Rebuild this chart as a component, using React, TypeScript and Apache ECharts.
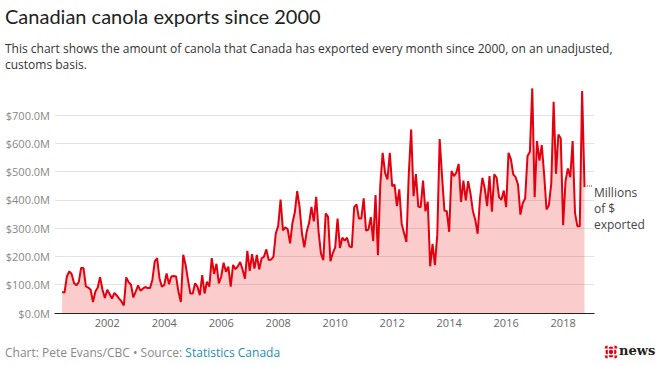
import React, { useEffect, useRef } from "react";
import * as echarts from "echarts";

// Monthly canola exports, millions of dollars, Jun 2000 .. Oct 2018
const DATA_START_YEAR = 2000;
const DATA_START_MONTH = 6; // June
const PAD_BEFORE = 3; // empty months drawn before the first value
const PAD_AFTER = 4; // empty months drawn after the last value

const exportsMillions: number[] = [
  // 2000 (Jun-Dec)
  74, 72, 129, 147, 138, 106, 98,
  // 2001
  109, 159, 159, 94, 90, 82, 39, 76, 90, 127, 82, 53,
  // 2002
  82, 67, 51, 71, 62, 51, 41, 27, 126, 109, 100, 55,
  // 2003
  76, 98, 79, 86, 92, 88, 88, 117, 182, 194, 123, 93,
  // 2004
  99, 140, 102, 129, 131, 129, 75, 39, 206, 170, 117, 69,
  // 2005
  69, 105, 93, 63, 134, 69, 111, 93, 194, 138, 174, 105,
  // 2006
  129, 178, 146, 164, 93, 170, 155, 165, 180, 154, 121, 220,
  // 2007
  149, 208, 157, 205, 154, 193, 199, 225, 187, 189, 199, 282,
  // 2008
  308, 401, 292, 303, 296, 246, 318, 356, 431, 375, 282, 232,
  // 2009
  288, 318, 375, 324, 411, 288, 211, 187, 352, 340, 183, 212,
  // 2010
  232, 334, 230, 266, 256, 266, 236, 232, 374, 384, 334, 334,
  // 2011
  405, 291, 295, 339, 254, 417, 204, 454, 566, 496, 472, 566,
  // 2012
  448, 454, 378, 437, 315, 283, 251, 492, 649, 413, 491, 376,
  // 2013
  374, 468, 360, 393, 165, 244, 169, 277, 615, 484, 362, 360,
  // 2014
  287, 502, 484, 496, 527, 393, 468, 398, 466, 421, 360, 330,
  // 2015
  280, 405, 478, 440, 378, 484, 358, 490, 478, 410, 400, 433,
  // 2016
  374, 566, 543, 490, 480, 454, 348, 389, 405, 555, 570, 794,
  // 2017
  409, 608, 539, 594, 490, 366, 381, 457, 747, 492, 631, 617,
  // 2018 (Jan-Oct)
  310, 466, 511, 480, 608, 354, 307, 307, 785, 445,
];

const yTicks = [0, 100, 200, 300, 400, 500, 600, 700];

const TITLE = "Canadian canola exports since 2000";
const SUBTITLE_1 =
  "This chart shows the amount of canola that Canada has exported every month since 2000, on an unadjusted,";
const SUBTITLE_2 = "customs basis.";
const UNIT_NOTE = "Millions\nof $\nexported";
const CREDIT = "Chart: Pete Evans/CBC \u2022 Source: ";
const SOURCE = "Statistics Canada";

const FONT = "'Open Sans', 'Noto Sans', sans-serif";

function buildCategories(): string[] {
  const out: string[] = [];
  const total = PAD_BEFORE + exportsMillions.length + PAD_AFTER;
  let y = DATA_START_YEAR;
  let m = DATA_START_MONTH - PAD_BEFORE;
  while (m < 1) {
    m += 12;
    y -= 1;
  }
  for (let i = 0; i < total; i++) {
    out.push(`${y}-${String(m).padStart(2, "0")}`);
    m += 1;
    if (m > 12) {
      m = 1;
      y += 1;
    }
  }
  return out;
}

export default function App() {
  const ref = useRef<HTMLDivElement>(null);

  useEffect(() => {
    if (!ref.current) return;
    const chart = echarts.init(ref.current, null, { renderer: "svg" });
    const categories = buildCategories();
    const seriesData: (number | string)[] = [
      ...new Array(PAD_BEFORE).fill("-"),
      ...exportsMillions,
      ...new Array(PAD_AFTER).fill("-"),
    ];

    const option: echarts.EChartsOption = {
      animation: false,
      backgroundColor: "#ffffff",
      grid: { left: 55, right: 63, top: 115, bottom: 52, containLabel: false },
      xAxis: {
        type: "category",
        data: categories,
        boundaryGap: false,
        axisLine: { show: true, lineStyle: { color: "#222", width: 1.2 } },
        axisTick: { show: false },
        splitLine: { show: false },
        axisLabel: {
          interval: (_i: number, v: string) =>
            v.endsWith("-01") && parseInt(v.slice(0, 4), 10) % 2 === 0,
          formatter: (v: string) => v.slice(0, 4),
          color: "#666",
          fontSize: 11,
          fontFamily: FONT,
          margin: 4,
        },
      },
      yAxis: {
        type: "value",
        min: yTicks[0],
        max: yTicks[yTicks.length - 1],
        interval: 100,
        axisLine: { show: false },
        axisTick: { show: false },
        splitLine: { show: true, lineStyle: { color: "#e3e3e3", width: 1 } },
        axisLabel: {
          formatter: (v: number) => `$${v.toFixed(1)}M`,
          color: "#888",
          fontSize: 11,
          fontFamily: FONT,
          margin: 5,
        },
      },
      series: [
        {
          type: "line",
          data: seriesData,
          symbol: "none",
          clip: false,
          lineStyle: { color: "#e3000f", width: 2 },
          areaStyle: { color: "rgba(230,0,0,0.2)", opacity: 1 },
          z: 3,
        },
      ],
      graphic: [
        {
          type: "text",
          left: 5,
          top: 6,
          style: {
            text: TITLE,
            fill: "#222",
            font: `400 20px Lato, 'Open Sans', sans-serif`,
          },
        },
        {
          type: "text",
          left: 5,
          top: 40,
          style: {
            text: SUBTITLE_1 + "\n" + SUBTITLE_2,
            fill: "#333",
            font: `12px ${FONT}`,
            lineHeight: 16,
          },
        },
        {
          type: "line",
          shape: { x1: 587, y1: 186, x2: 593, y2: 186 },
          style: { stroke: "#e3000f", lineWidth: 1, lineDash: [1, 1] },
        },
        {
          type: "text",
          left: 594,
          top: 184,
          style: {
            text: UNIT_NOTE,
            fill: "#444",
            font: `12px ${FONT}`,
            lineHeight: 16,
          },
        },
        {
          type: "text",
          left: 5,
          top: 346,
          style: {
            rich: {
              c: { fill: "#888", fontSize: 12, fontFamily: FONT },
              s: { fill: "#1e8db5", fontSize: 12, fontFamily: FONT },
            },
            text: `{c|${CREDIT}}{s|${SOURCE}}`,
          },
        },
        // CBC gem approximation
        {
          type: "group",
          x: 611,
          y: 352,
          children: [
            { type: "circle", shape: { cx: 0, cy: 0, r: 2.2 }, style: { fill: "#e60012" } },
            { type: "sector", shape: { cx: 0, cy: -3.2, r: 2.4, startAngle: Math.PI, endAngle: 2 * Math.PI }, style: { fill: "#e60012" } },
            { type: "sector", shape: { cx: 0, cy: 3.2, r: 2.4, startAngle: 0, endAngle: Math.PI }, style: { fill: "#e60012" } },
            { type: "sector", shape: { cx: -3.2, cy: 0, r: 2.4, startAngle: Math.PI / 2, endAngle: 1.5 * Math.PI }, style: { fill: "#e60012" } },
            { type: "sector", shape: { cx: 3.2, cy: 0, r: 2.4, startAngle: -Math.PI / 2, endAngle: Math.PI / 2 }, style: { fill: "#e60012" } },
            { type: "sector", shape: { cx: -3.4, cy: -3.4, r: 3, startAngle: Math.PI, endAngle: 1.5 * Math.PI }, style: { fill: "#e60012" } },
            { type: "sector", shape: { cx: 3.4, cy: -3.4, r: 3, startAngle: 1.5 * Math.PI, endAngle: 2 * Math.PI }, style: { fill: "#e60012" } },
            { type: "sector", shape: { cx: -3.4, cy: 3.4, r: 3, startAngle: Math.PI / 2, endAngle: Math.PI }, style: { fill: "#e60012" } },
            { type: "sector", shape: { cx: 3.4, cy: 3.4, r: 3, startAngle: 0, endAngle: Math.PI / 2 }, style: { fill: "#e60012" } },
          ],
        },
        {
          type: "text",
          left: 619,
          top: 344,
          style: {
            text: "news",
            fill: "#222",
            font: `bold 13px 'DejaVu Serif', serif`,
          },
        },
      ],
    };

    chart.setOption(option);
    return () => chart.dispose();
  }, []);

  return (
    <div
      ref={ref}
      style={{ position: "absolute", left: 0, top: 0, width: 657, height: 365 }}
    />
  );
}
